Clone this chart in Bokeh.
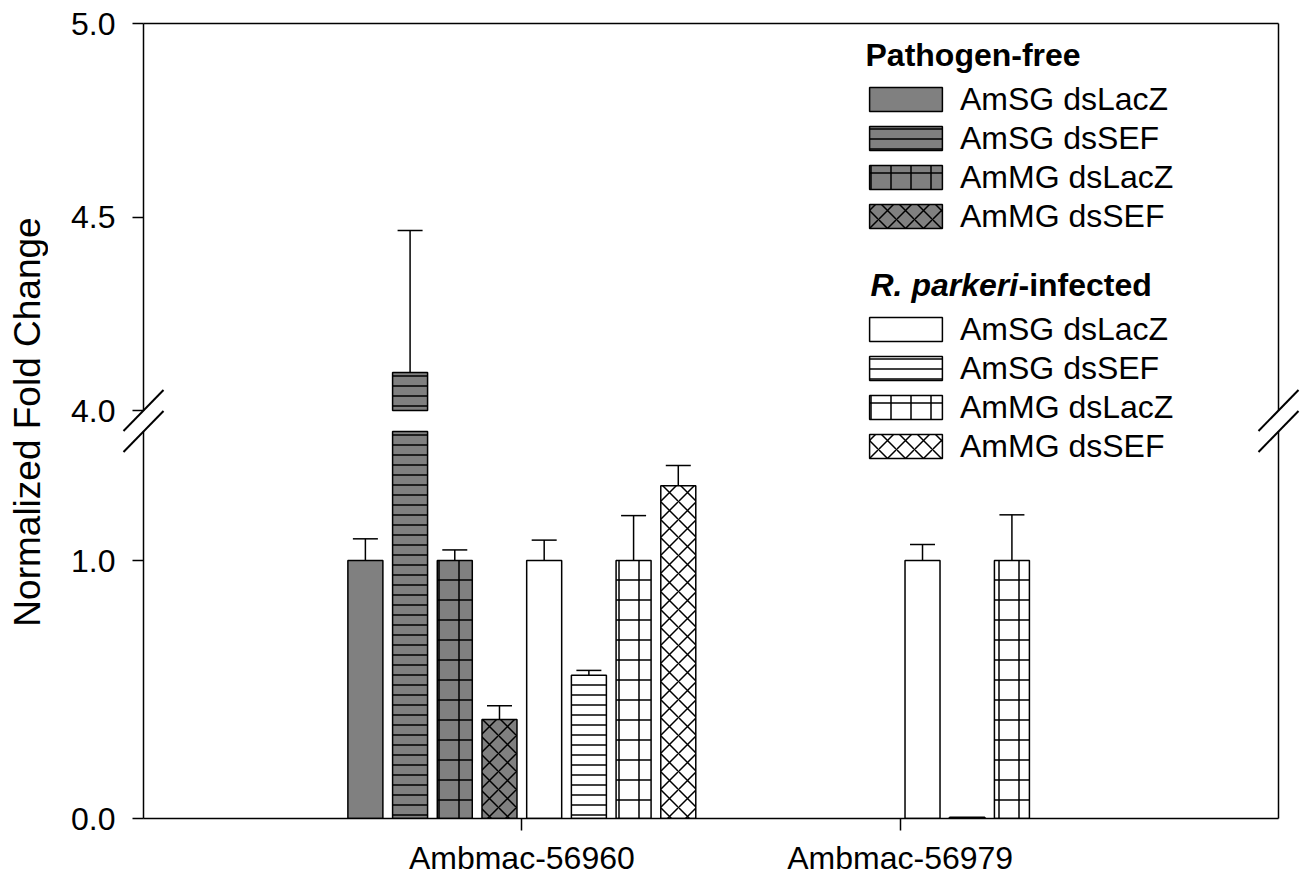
import numpy as np
from bokeh.plotting import figure
from bokeh.models import (ColumnDataSource, Range1d, LinearAxis, FixedTicker, Legend,
                          LegendItem, Label, Whisker, TeeHead)
from bokeh.layouts import row, column
from bokeh.embed import file_html
from bokeh.resources import INLINE
from bokeh.core.properties import value

nan = float("nan")

# ---------------- data ----------------
categories = ["Ambmac-56960", "Ambmac-56979"]
conditions = ["Pathogen-free", "R. parkeri-infected"]
treatments = ["AmSG dsLacZ", "AmSG dsSEF", "AmMG dsLacZ", "AmMG dsSEF"]

pf_sg_lacz = [1.000, nan]
pf_sg_lacz_err = [0.084, nan]
pf_sg_sef = [4.098, nan]
pf_sg_sef_err = [0.367, nan]
pf_mg_lacz = [1.000, nan]
pf_mg_lacz_err = [0.041, nan]
pf_mg_sef = [0.384, nan]
pf_mg_sef_err = [0.053, nan]

rp_sg_lacz = [1.000, 1.000]
rp_sg_lacz_err = [0.079, 0.062]
rp_sg_sef = [0.555, 0.005]
rp_sg_sef_err = [0.019, 0.0]
rp_mg_lacz = [1.000, 1.000]
rp_mg_lacz_err = [0.174, 0.177]
rp_mg_sef = [1.290, nan]
rp_mg_sef_err = [0.078, nan]

low_ticks = [0.0, 1.0]
low_tick_labels = ["0.0", "1.0"]
high_ticks = [4.0, 4.5, 5.0]
high_tick_labels = ["4.0", "4.5", "5.0"]
low_break = 1.5      # top of lower axis segment
high_break = 4.0     # bottom of upper axis segment
y_title = "Normalized Fold Change"

series = [
    (conditions[0], treatments[0], pf_sg_lacz, pf_sg_lacz_err),
    (conditions[0], treatments[1], pf_sg_sef, pf_sg_sef_err),
    (conditions[0], treatments[2], pf_mg_lacz, pf_mg_lacz_err),
    (conditions[0], treatments[3], pf_mg_sef, pf_mg_sef_err),
    (conditions[1], treatments[0], rp_sg_lacz, rp_sg_lacz_err),
    (conditions[1], treatments[1], rp_sg_sef, rp_sg_sef_err),
    (conditions[1], treatments[2], rp_mg_lacz, rp_mg_lacz_err),
    (conditions[1], treatments[3], rp_mg_sef, rp_mg_sef_err),
]

# ---------------- styles / layout ----------------
FONT = "Liberation Sans"
TICK_FS = "32px"
LEG_FS = "32px"
TITLE_FS = "37px"
GRAY = "#808080"
fills = {conditions[0]: GRAY, conditions[1]: "white"}
hatches = {treatments[0]: (None, 12), treatments[1]: ("horizontal_line", 10),
           treatments[2]: ("cross", 20), treatments[3]: ("diagonal_cross", 18)}

TITLE_W = 48
LEFT_B = 95
FRAME_W = 1135
RIGHT_B = 22
TOP_B = 23
UP_H = 406
LOW_H = 389
BOT_B = 61
TOTAL_H = TOP_B + UP_H + LOW_H + BOT_B
UPPU = 387.0
LPPU = 258.0
X_START, X_END = -1.0, 2.0
XPPU = FRAME_W / (X_END - X_START)
PITCH = 44.7 / XPPU
BAR_W = 35.0 / XPPU
LW = 1.5

x_range = Range1d(X_START, X_END)
up_range = Range1d(5.0 - UP_H / UPPU, 5.0)
low_range = Range1d(0.0, LOW_H / LPPU)


def gx_to_x(gx):
    return X_START + gx / XPPU


def gy_to_up(gy):
    return up_range.end - gy / UPPU


def gy_to_low(gy):
    return low_range.end - (gy - UP_H) / LPPU


def up_to_gy(v):
    return (up_range.end - v) * UPPU


def low_to_gy(v):
    return UP_H + (low_range.end - v) * LPPU


def make_fig(height, yr, top_b, bot_b):
    p = figure(width=LEFT_B + FRAME_W + RIGHT_B, height=height, x_range=x_range, y_range=yr,
               x_axis_location=None, y_axis_location=None, toolbar_location=None,
               output_backend="svg", min_border_left=LEFT_B, min_border_right=RIGHT_B,
               min_border_top=top_b, min_border_bottom=bot_b)
    p.outline_line_color = None
    p.grid.visible = False
    p.background_fill_color = "white"
    p.border_fill_color = "white"
    return p


def style_axis(ax, ticks=True):
    ax.axis_line_width = LW
    ax.axis_line_color = "black"
    ax.major_tick_line_width = LW
    ax.major_tick_line_color = "black"
    ax.major_tick_in = 0
    ax.major_tick_out = 11 if ticks else 0
    ax.minor_tick_in = 0
    ax.minor_tick_out = 0
    ax.major_label_text_font = FONT
    ax.major_label_text_font_size = TICK_FS
    ax.major_label_text_color = "black"
    ax.major_label_standoff = 17


p_up = make_fig(TOP_B + UP_H, up_range, TOP_B, 0)
p_low = make_fig(LOW_H + BOT_B, low_range, 0, BOT_B)

# upper axes
ax = LinearAxis(bounds=(high_break, up_range.end),
                ticker=FixedTicker(ticks=high_ticks, minor_ticks=[]),
                major_label_overrides=dict(zip(high_ticks, high_tick_labels)))
style_axis(ax)
p_up.add_layout(ax, "left")
ax = LinearAxis(bounds=(high_break, up_range.end), ticker=FixedTicker(ticks=[], minor_ticks=[]))
style_axis(ax, ticks=False)
p_up.add_layout(ax, "right")
ax = LinearAxis(ticker=FixedTicker(ticks=[], minor_ticks=[]))
style_axis(ax, ticks=False)
p_up.add_layout(ax, "above")

# lower axes
ax = LinearAxis(bounds=(0.0, low_break),
                ticker=FixedTicker(ticks=low_ticks, minor_ticks=[]),
                major_label_overrides=dict(zip(low_ticks, low_tick_labels)))
style_axis(ax)
p_low.add_layout(ax, "left")
ax = LinearAxis(bounds=(0.0, low_break), ticker=FixedTicker(ticks=[], minor_ticks=[]))
style_axis(ax, ticks=False)
p_low.add_layout(ax, "right")
cat_pos = [float(i) for i in range(len(categories))]
ax = LinearAxis(ticker=FixedTicker(ticks=cat_pos, minor_ticks=[]),
                major_label_overrides=dict(zip(cat_pos, categories)))
style_axis(ax)
ax.major_tick_out = 12
ax.major_label_standoff = 9
p_low.add_layout(ax, "below")

# bars
n = len(series)
up_renderers, low_renderers = [], []
for i, (cond, trt, means, errs) in enumerate(series):
    off = (i - (n - 1) / 2.0) * PITCH
    xs = np.arange(len(categories)) + off
    m = np.array(means, dtype=float)
    e = np.array(errs, dtype=float)
    pat, scale = hatches[trt]
    kw = dict(width=BAR_W, fill_color=fills[cond], line_color="black", line_width=LW,
              hatch_pattern=pat, hatch_scale=scale, hatch_color="black", hatch_weight=1.5)
    low_top = np.where(m > low_break, low_break, m)
    src_low = ColumnDataSource(dict(x=xs, top=low_top))
    r_low = p_low.vbar(x="x", top="top", bottom=0.0, source=src_low, **kw)
    up_top = np.where(m > high_break, m, nan)
    src_up = ColumnDataSource(dict(x=xs, top=up_top))
    r_up = p_up.vbar(x="x", top="top", bottom=high_break, source=src_up, **kw)
    low_renderers.append(r_low)
    up_renderers.append(r_up)

    for p, mask in ((p_low, (m <= low_break) & (e > 0)), (p_up, (m > high_break) & (e > 0))):
        if mask.any():
            ws = ColumnDataSource(dict(base=xs[mask], lower=m[mask], upper=(m + e)[mask]))
            w = Whisker(source=ws, base="base", lower="lower", upper="upper", dimension="height",
                        line_width=LW, line_color="black",
                        upper_head=TeeHead(size=25, line_width=LW, line_color="black"),
                        lower_head=None)
            p.add_layout(w)

# axis break marks (drawn in both figures, each canvas shows its part)
ends_gy = [up_to_gy(high_break), low_to_gy(low_break)]
for fig, conv in ((p_up, gy_to_up), (p_low, gy_to_low)):
    xs0, ys0, xs1, ys1 = [], [], [], []
    for gx in (0.0, FRAME_W):
        for gy in ends_gy:
            xs0.append(gx_to_x(gx - 20)); ys0.append(conv(gy + 20.5))
            xs1.append(gx_to_x(gx + 20)); ys1.append(conv(gy - 20.5))
    r = fig.segment(x0=xs0, y0=ys0, x1=xs1, y1=ys1, line_color="black", line_width=2)
    r.level = "overlay"

# legends (positions measured from frame top-left, in px)
ITEM_H = 37.0
SP = 2
GLYPH_INSET = (ITEM_H - 24.0) / 2.0
leg_kw = dict(orientation="vertical", glyph_width=91, glyph_height=30, label_standoff=9,
              spacing=SP, padding=0, margin=0, border_line_color=None,
              background_fill_alpha=0, label_text_font=FONT, label_text_font_size=LEG_FS,
              label_text_color="black")
VX = 717
row1_gy = 87 - TOP_B       # top of first legend box, pathogen-free
row5_gy = 317 - TOP_B      # top of first legend box, infected
pitch = ITEM_H + SP

l1_top = row1_gy - GLYPH_INSET
leg1 = Legend(items=[LegendItem(label=series[i][1], renderers=[up_renderers[i]]) for i in range(4)],
              location=(VX, UP_H - l1_top - (4 * ITEM_H + 3 * SP)), **leg_kw)
p_up.add_layout(leg1)
l2_top = row5_gy - GLYPH_INSET
leg2a = Legend(items=[LegendItem(label=series[i][1], renderers=[up_renderers[i]]) for i in range(4, 7)],
               location=(VX, UP_H - l2_top - (3 * ITEM_H + 2 * SP)), **leg_kw)
p_up.add_layout(leg2a)
l2b_top = l2_top + 3 * pitch - UP_H
leg2b = Legend(items=[LegendItem(label=series[7][1], renderers=[low_renderers[7]])],
               location=(VX, LOW_H - l2b_top - ITEM_H), **leg_kw)
p_low.add_layout(leg2b)

lab_kw = dict(text_font=FONT, text_font_size=LEG_FS, text_font_style="bold",
              text_baseline="middle", text_align="left", text_color="black")
p_up.add_layout(Label(x=gx_to_x(722), y=gy_to_up(31.5), text=conditions[0], **lab_kw))
cond2_italic, cond2_rest = conditions[1].split("-", 1)
p_up.add_layout(Label(x=gx_to_x(727), y=gy_to_up(261.0), text=cond2_italic,
                      **{**lab_kw, "text_font_style": "bold italic"}))
p_up.add_layout(Label(x=gx_to_x(875), y=gy_to_up(261.0), text="-" + cond2_rest, **lab_kw))

# y-axis title panel
p_t = figure(width=TITLE_W, height=TOTAL_H, x_range=Range1d(0, TITLE_W), y_range=Range1d(0, TOTAL_H),
             x_axis_location=None, y_axis_location=None, toolbar_location=None,
             output_backend="svg", min_border=0)
p_t.outline_line_color = None
p_t.grid.visible = False
p_t.text(x=[27.0], y=[TOTAL_H - 421.5], text=[y_title], angle=np.pi / 2,
         text_align="center", text_baseline="middle", text_font=value(FONT),
         text_font_size=TITLE_FS, text_color="black")

layout = row(p_t, column(p_up, p_low))
open("out.html", "w").write(file_html(layout, INLINE))
